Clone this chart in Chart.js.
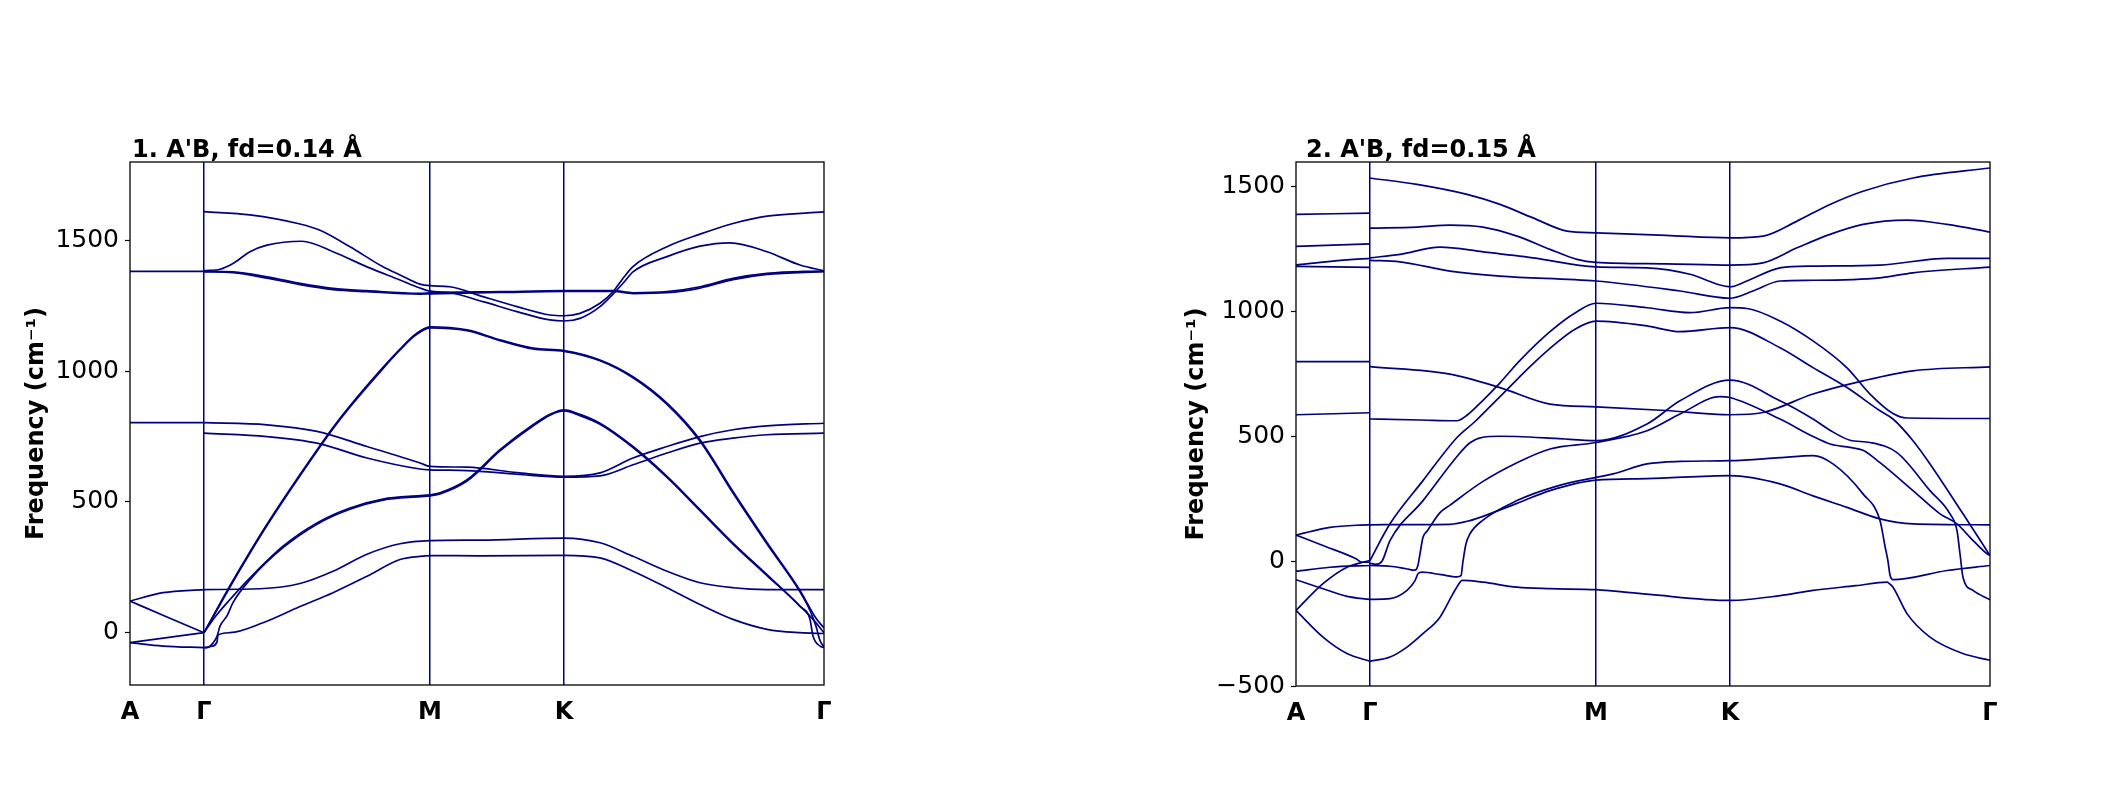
<!DOCTYPE html>
<html>
<head>
<meta charset="utf-8">
<title>Phonon bands A'B</title>
<script src="https://cdn.jsdelivr.net/npm/chart.js@4.4.1/dist/chart.umd.min.js"></script>
<style>
  html, body { margin: 0; padding: 0; background: #fff; }
  #wrap { position: relative; width: 2110px; height: 786px; overflow: hidden; }
  .panel { position: absolute; top: 0; width: 1055px; height: 786px; }
</style>
</head>
<body>
<div id="wrap">
  <div class="panel" style="left:0"><canvas id="bands1" width="1055" height="786"></canvas></div>
  <div class="panel" style="left:1055px"><canvas id="bands2" width="1055" height="786"></canvas></div>
</div>
<script>
// High-symmetry path A-Γ-M-K-Γ (path length, arbitrary units)
const kTicks = [0, 0.74, 3.00, 4.34, 6.94];
const kLabels = ['A', 'Γ', 'M', 'K', 'Γ'];

const freqTicks1 = [0, 500, 1000, 1500];
const freqTicks2 = [-500, 0, 500, 1000, 1500];

// fd = 0.14 Å, segment A-Γ  ([k, frequency in cm-1])
const bandsAG1 = [
    [[0, 1382], [0.74, 1382]],
    [[0, 803], [0.74, 803]],
    [[0, 121], [0.33, 153], [0.74, 165]],
    [[0, 121], [0.37, 60], [0.74, 0]],
    [[0, -38], [0.37, -19], [0.74, 0]],
    [[0, -38], [0.33, -51], [0.74, -57]]
];

// fd = 0.14 Å, segments Γ-M-K-Γ
const bandsGMKG1 = [
    [[0.74, 1610], [1.2, 1598], [1.7, 1563], [1.9, 1539], [2.2, 1476], [2.53, 1399], [2.7, 1368], [2.9, 1333], [3.0, 1327],
     [3.2, 1323], [3.53, 1285], [3.87, 1247], [4.2, 1215], [4.34, 1212], [4.5, 1221], [4.7, 1260], [4.83, 1304], [4.92, 1350],
     [5.03, 1400], [5.37, 1476], [5.7, 1524], [6.03, 1565], [6.37, 1593], [6.94, 1609]],
    [[0.74, 1384], [0.9, 1390], [1.03, 1412], [1.2, 1457], [1.37, 1482], [1.72, 1497], [2.03, 1457], [2.37, 1399], [2.7, 1349],
     [2.9, 1318], [3.0, 1306], [3.2, 1300], [3.53, 1266], [3.87, 1228], [4.2, 1196], [4.34, 1192], [4.5, 1202], [4.7, 1247],
     [4.83, 1295], [4.95, 1345], [5.03, 1380], [5.37, 1438], [5.7, 1478], [6.0, 1491], [6.37, 1457], [6.7, 1406], [6.94, 1384]],
    [[0.74, 1382], [1.03, 1380], [1.37, 1361], [1.7, 1336], [2.03, 1317], [2.37, 1308], [2.9, 1298], [3.0, 1300], [3.7, 1304],
     [4.34, 1308], [4.83, 1308], [5.03, 1300], [5.37, 1304], [5.7, 1323], [6.03, 1355], [6.37, 1374], [6.94, 1384]],
    [[0.74, 1380], [1.03, 1377], [1.37, 1356], [1.7, 1331], [2.03, 1312], [2.37, 1304], [2.9, 1295], [3.0, 1296], [3.7, 1301],
     [4.34, 1305], [4.83, 1305], [5.03, 1297], [5.37, 1300], [5.7, 1318], [6.03, 1350], [6.37, 1370], [6.94, 1381]],
    [[0.74, 0], [0.9, 112], [1.03, 200], [1.2, 310], [1.37, 415], [1.7, 605], [2.03, 785], [2.2, 868], [2.53, 1015], [2.7, 1085],
     [2.85, 1140], [3.0, 1170], [3.37, 1158], [3.7, 1120], [4.03, 1088], [4.34, 1079], [4.7, 1043], [5.03, 979], [5.37, 878],
     [5.7, 738], [6.03, 540], [6.37, 345], [6.7, 162], [6.86, 55], [6.94, 18]],
    [[0.74, 0], [0.9, 107], [1.03, 195], [1.2, 305], [1.37, 410], [1.7, 600], [2.03, 780], [2.2, 863], [2.53, 1010], [2.7, 1081],
     [2.85, 1136], [3.0, 1166], [3.37, 1155], [3.7, 1117], [4.03, 1085], [4.34, 1076], [4.7, 1040], [5.03, 975], [5.37, 873],
     [5.7, 732], [6.03, 534], [6.37, 339], [6.7, 156], [6.8, 85], [6.86, 25], [6.9, -30], [6.94, -55]],
    [[0.74, 0], [0.85, 60], [1.03, 140], [1.2, 210], [1.53, 331], [1.87, 420], [2.2, 477], [2.53, 511], [2.9, 524], [3.0, 527],
     [3.1, 535], [3.37, 585], [3.7, 700], [4.03, 795], [4.2, 835], [4.34, 852], [4.5, 835], [4.7, 801], [5.03, 712], [5.37, 598],
     [5.7, 471], [6.03, 343], [6.37, 222], [6.7, 102], [6.83, 51], [6.94, 0]],
    [[0.74, -57], [0.77, -57], [0.83, -40], [0.87, -14], [0.9, 25], [0.97, 64], [1.03, 115], [1.2, 203], [1.53, 325], [1.87, 415],
     [2.2, 472], [2.53, 507], [2.9, 520], [3.0, 523], [3.1, 531], [3.37, 580], [3.7, 695], [4.03, 790], [4.2, 832], [4.34, 848],
     [4.5, 830], [4.7, 797], [5.03, 708], [5.37, 594], [5.7, 467], [6.03, 339], [6.37, 218], [6.7, 100], [6.8, 51], [6.83, -13],
     [6.9, -51], [6.94, -57]],
    [[0.74, -57], [0.82, -52], [0.87, -35], [0.88, -9], [1.0, 0], [1.33, 38], [1.7, 100], [2.03, 153], [2.37, 216], [2.7, 280],
     [2.9, 292], [3.0, 295], [3.5, 294], [4.34, 296], [4.7, 286], [5.03, 235], [5.37, 172], [5.7, 108], [6.03, 51], [6.37, 13],
     [6.7, 0], [6.94, -3]],
    [[0.74, 165], [1.3, 168], [1.7, 188], [2.03, 235], [2.37, 300], [2.7, 340], [3.0, 352], [3.5, 354], [4.34, 362], [4.7, 344],
     [5.03, 292], [5.37, 235], [5.7, 191], [6.03, 172], [6.37, 165], [6.94, 165]],
    [[0.74, 803], [1.37, 795], [1.87, 770], [2.37, 712], [2.9, 649], [3.0, 636], [3.37, 633], [3.87, 612], [4.34, 598], [4.7, 611],
     [5.03, 668], [5.37, 712], [5.7, 750], [6.03, 776], [6.37, 791], [6.94, 801]],
    [[0.74, 763], [1.37, 750], [1.87, 725], [2.37, 668], [2.9, 626], [3.0, 623], [3.37, 620], [3.87, 606], [4.34, 595], [4.7, 600],
     [5.03, 642], [5.37, 687], [5.7, 725], [6.03, 744], [6.37, 757], [6.94, 763]]
];

// fd = 0.15 Å, segment A-Γ
const bandsAG2 = [
    [[0, 1390], [0.74, 1395]],
    [[0, 1262], [0.74, 1272]],
    [[0, 1187], [0.37, 1203], [0.74, 1214]],
    [[0, 1182], [0.74, 1178]],
    [[0, 800], [0.74, 800]],
    [[0, 587], [0.74, 595]],
    [[0, 105], [0.34, 136], [0.74, 147]],
    [[0, 105], [0.27, 63], [0.6, 10], [0.66, -4], [0.74, -4]],
    [[0, -40], [0.34, -24], [0.74, -17]],
    [[0, -74], [0.27, -110], [0.51, -141], [0.74, -153]],
    [[0, -197], [0.27, -90], [0.51, -24], [0.74, 3]],
    [[0, -197], [0.27, -304], [0.51, -370], [0.74, -401]]
];

// fd = 0.15 Å, segments Γ-M-K-Γ
const bandsGMKG2 = [
    [[0.74, 1536], [1.21, 1510], [1.71, 1470], [2.04, 1430], [2.37, 1376], [2.71, 1323], [3.0, 1316], [3.7, 1306], [4.34, 1296],
     [4.67, 1303], [5.01, 1363], [5.34, 1430], [5.67, 1483], [6.17, 1536], [6.94, 1576]],
    [[0.74, 1335], [1.21, 1339], [1.54, 1347], [1.87, 1339], [2.21, 1303], [2.54, 1250], [2.81, 1210], [3.0, 1198], [3.7, 1192],
     [4.34, 1187], [4.67, 1196], [5.01, 1256], [5.34, 1310], [5.67, 1350], [6.11, 1367], [6.51, 1350], [6.94, 1319]],
    [[0.74, 1216], [1.04, 1230], [1.44, 1259], [1.87, 1240], [2.37, 1216], [3.0, 1180], [3.51, 1176], [3.94, 1150], [4.24, 1107],
     [4.34, 1100], [4.51, 1123], [4.84, 1176], [5.17, 1183], [5.84, 1187], [6.51, 1214], [6.94, 1214]],
    [[0.74, 1206], [1.04, 1200], [1.54, 1163], [2.04, 1143], [3.0, 1123], [3.84, 1083], [4.34, 1054], [4.57, 1083], [4.84, 1123],
     [5.17, 1126], [5.84, 1136], [6.17, 1156], [6.94, 1179]],
    [[0.74, 780], [1.54, 750], [2.04, 696], [2.54, 630], [3.0, 619], [3.7, 604], [4.34, 587], [4.67, 596], [5.17, 670], [5.67, 723],
     [6.17, 763], [6.94, 779]],
    [[0.74, 570], [1.24, 566], [1.61, 563], [1.71, 585], [1.87, 645], [2.04, 715], [2.24, 805], [2.54, 920], [2.79, 995], [3.0, 1034],
     [3.51, 1016], [3.94, 996], [4.34, 1016], [4.51, 1013], [4.84, 963], [5.17, 883], [5.51, 775], [5.74, 670], [5.97, 592],
     [6.11, 574], [6.94, 572]],
    [[0.74, 3], [0.94, 150], [1.27, 323], [1.61, 496], [1.79, 560], [1.94, 620], [2.14, 700], [2.34, 780], [2.59, 870], [2.79, 930],
     [3.0, 962], [3.51, 943], [3.84, 920], [4.34, 936], [4.84, 856], [5.17, 776], [5.51, 696], [5.84, 603], [5.97, 570],
     [6.17, 483], [6.34, 390], [6.67, 190], [6.94, 23]],
    [[0.74, -8], [0.8, -12], [0.86, 0], [0.94, 83], [1.27, 243], [1.61, 420], [1.74, 475], [1.87, 497], [2.04, 501], [2.21, 500],
     [2.6, 492], [3.0, 483], [3.51, 550], [3.84, 643], [4.34, 726], [4.84, 643], [5.17, 570], [5.34, 525], [5.54, 485], [5.74, 476],
     [6.01, 435], [6.34, 283], [6.54, 190], [6.61, 123], [6.64, 30], [6.67, -64], [6.77, -117], [6.94, -154]],
    [[0.74, -17], [0.94, -20], [1.1, -30], [1.19, -36], [1.22, -15], [1.24, 30], [1.27, 96], [1.31, 120], [1.44, 195], [1.54, 225],
     [1.87, 320], [2.21, 395], [2.54, 450], [3.0, 476], [3.51, 523], [3.84, 590], [4.24, 660], [4.34, 656], [4.84, 570], [5.17, 500],
     [5.34, 470], [5.54, 456], [5.67, 445], [5.84, 395], [6.17, 283], [6.44, 190], [6.61, 150], [6.74, 96], [6.91, 30], [6.94, 23]],
    [[0.74, -153], [0.94, -150], [1.11, -117], [1.19, -78], [1.22, -50], [1.26, -44], [1.45, -54], [1.61, -63], [1.65, -58],
     [1.67, 0], [1.7, 70], [1.74, 110], [1.87, 165], [2.21, 243], [2.6, 300], [3.0, 336], [3.17, 350], [3.51, 390], [3.84, 400],
     [4.34, 403], [4.84, 415], [5.17, 423], [5.37, 390], [5.67, 270], [5.84, 163], [5.89, 60], [5.92, 0], [5.94, -55],
     [5.97, -74], [6.51, -37], [6.94, -17]],
    [[0.74, 146], [1.2, 147], [1.54, 148], [1.74, 163], [1.87, 180], [2.21, 232], [2.54, 283], [3.0, 325], [3.51, 331], [4.34, 343],
     [4.84, 310], [5.17, 262], [5.51, 216], [5.84, 170], [6.17, 150], [6.94, 146]],
    [[0.74, -401], [0.94, -384], [1.11, -344], [1.27, -290], [1.44, -224], [1.57, -130], [1.63, -90], [1.66, -77], [1.87, -84],
     [2.21, -104], [2.54, -110], [3.0, -114], [3.51, -132], [4.34, -157], [4.84, -138], [5.17, -117], [5.6, -98], [5.91, -84],
     [5.94, -92], [5.97, -104], [6.11, -210], [6.34, -304], [6.67, -370], [6.94, -397]]
];

const BAND_COLOR = '#000080';
const FONT = 'DejaVu Sans';
Chart.defaults.font.family = FONT;
Chart.defaults.color = '#000';

// Black box around the plot area (all four spines)
const framePlugin = {
    id: 'frame',
    afterDatasetsDraw(chart) {
        const { ctx, chartArea: a } = chart;
        ctx.save();
        ctx.strokeStyle = '#000';
        ctx.lineWidth = 1.3;
        ctx.strokeRect(a.left, a.top, a.right - a.left, a.bottom - a.top);
        ctx.restore();
    }
};

// Left aligned bold title above the plot area
const panelTitlePlugin = {
    id: 'panelTitle',
    afterDraw(chart, args, opts) {
        const { ctx, chartArea } = chart;
        ctx.save();
        ctx.font = `bold 24px ${FONT}`;
        ctx.fillStyle = '#000';
        ctx.textAlign = 'left';
        ctx.textBaseline = 'alphabetic';
        ctx.fillText(opts.text, chartArea.left + opts.dx, opts.baseline);
        ctx.restore();
    }
};

function toDatasets(groups) {
    const sets = [];
    groups.forEach(bands => bands.forEach(band => {
        sets.push({
            data: band.map(([k, f]) => ({ x: k, y: f })),
            borderColor: BAND_COLOR,
            borderWidth: 1.7,
            pointRadius: 0,
            fill: false,
            cubicInterpolationMode: 'monotone'
        });
    }));
    return sets;
}

function makePanel(id, cfg) {
    const ctx = document.getElementById(id).getContext('2d');
    return new Chart(ctx, {
        type: 'line',
        data: { datasets: toDatasets(cfg.bands) },
        plugins: [framePlugin, panelTitlePlugin],
        options: {
            responsive: false,
            animation: false,
            layout: { padding: { left: cfg.padLeft, right: cfg.padRight, top: 162, bottom: 0 } },
            plugins: {
                legend: { display: false },
                tooltip: { enabled: false },
                panelTitle: { text: cfg.title, dx: cfg.titleDx, baseline: 157 }
            },
            scales: {
                x: {
                    type: 'linear',
                    min: kTicks[0],
                    max: kTicks[kTicks.length - 1],
                    afterFit: s => { s.height = cfg.xHeight; },
                    afterBuildTicks: s => { s.ticks = kTicks.map(v => ({ value: v })); },
                    border: { display: false },
                    grid: {
                        drawTicks: false,
                        lineWidth: 1.5,
                        color: c => (c.index > 0 && c.index < kTicks.length - 1) ? BAND_COLOR : 'rgba(0,0,0,0)'
                    },
                    ticks: {
                        autoSkip: false,
                        maxRotation: 0,
                        padding: 13,
                        color: '#000',
                        font: { size: 24, weight: 'bold' },
                        callback: (v, i) => kLabels[i]
                    }
                },
                y: {
                    type: 'linear',
                    min: cfg.yMin,
                    max: cfg.yMax,
                    afterFit: s => { s.width = cfg.yWidth; },
                    afterBuildTicks: s => { s.ticks = cfg.yTicks.map(v => ({ value: v })); },
                    border: { display: false },
                    grid: { drawOnChartArea: false, drawTicks: true, tickLength: 5, tickColor: '#000', tickWidth: 1.2 },
                    ticks: {
                        padding: 6,
                        color: '#000',
                        font: { size: 25 },
                        callback: v => v < 0 ? '\u2212' + Math.abs(v) : String(v)
                    },
                    title: {
                        display: true,
                        text: 'Frequency (cm⁻¹)',
                        color: '#000',
                        font: { size: 24, weight: 'bold' },
                        padding: { top: 22, bottom: 0 }
                    }
                }
            }
        }
    });
}

makePanel('bands1', {
    bands: [bandsAG1, bandsGMKG1],
    yMin: -200, yMax: 1800, yTicks: freqTicks1,
    title: "1. A'B, fd=0.14 Å", titleDx: 2,
    padLeft: 0, yWidth: 130, padRight: 231, xHeight: 101
});

makePanel('bands2', {
    bands: [bandsAG2, bandsGMKG2],
    yMin: -500, yMax: 1600, yTicks: freqTicks2,
    title: "2. A'B, fd=0.15 Å", titleDx: 10,
    padLeft: 105, yWidth: 136, padRight: 120, xHeight: 100
});
</script>
</body>
</html>
